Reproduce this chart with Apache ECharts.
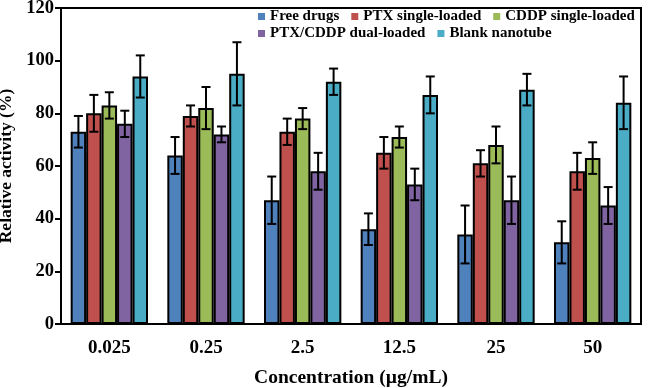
<!DOCTYPE html>
<html>
<head>
<meta charset="utf-8">
<script src="https://cdn.jsdelivr.net/npm/echarts@6/dist/echarts.min.js"></script>
<style>
  html, body { margin: 0; padding: 0; background: #fff; }
  #chart { width: 653px; height: 388px; }
</style>
</head>
<body>
<div id="chart"></div>
<script>
const categories = ['0.025', '0.25', '2.5', '12.5', '25', '50'];
const seriesNames = ['Free drugs', 'PTX single-loaded', 'CDDP single-loaded', 'PTX/CDDP dual-loaded', 'Blank nanotube'];
const colors = ['#4f81bd', '#c0504d', '#9bbb59', '#8064a2', '#4bacc6'];

const freeDrugs = [73, 64, 47, 36, 34, 31];
const freeErr = [6, 7, 9, 6, 11, 8];
const ptxSingle = [80, 79, 73, 65, 61, 58];
const ptxErr = [7, 4, 5, 6, 5, 7];
const cddpSingle = [83, 82, 78, 71, 68, 63];
const cddpErr = [5, 8, 4, 4, 7, 6];
const dualLoaded = [76, 72, 58, 53, 47, 45];
const dualErr = [5, 3, 7, 6, 9, 7];
const blankTube = [94, 95, 92, 87, 89, 84];
const blankErr = [8, 12, 5, 7, 6, 10];

const values = [freeDrugs, ptxSingle, cddpSingle, dualLoaded, blankTube];
const errors = [freeErr, ptxErr, cddpErr, dualErr, blankErr];

const font = "'Liberation Serif', 'Times New Roman', serif";
const chart = echarts.init(document.getElementById('chart'));

// one row per bar: [category index, series index, low, high]
const errData = [];
values.forEach((vals, s) => {
  vals.forEach((v, c) => {
    errData.push([c, s, v - errors[s][c], v + errors[s][c]]);
  });
});

function renderErr(params, api) {
  const cat = api.value(0);
  const s = api.value(1);
  const band = api.size([1, 0])[0];
  const bw = band * 0.8 / 5;
  const x = api.coord([cat, 0])[0] + (s - 2) * bw;
  const top = api.coord([cat, api.value(3)])[1];
  const bot = api.coord([cat, api.value(2)])[1];
  const cap = 4.5;
  const style = { stroke: '#000', lineWidth: 2 };
  return {
    type: 'group',
    children: [
      { type: 'line', shape: { x1: x, y1: top, x2: x, y2: bot }, style },
      { type: 'line', shape: { x1: x - cap, y1: top, x2: x + cap, y2: top }, style },
      { type: 'line', shape: { x1: x - cap, y1: bot, x2: x + cap, y2: bot }, style }
    ]
  };
}

const legendBase = {
  orient: 'horizontal',
  left: 258,
  padding: 0,
  itemWidth: 7,
  itemHeight: 7,
  itemGap: 12,
  icon: 'rect',
  itemStyle: { borderWidth: 0 },
  textStyle: { fontFamily: font, fontWeight: 'bold', fontSize: 15, color: '#000' }
};

const option = {
  animation: false,
  color: colors,
  legend: [
    Object.assign({}, legendBase, { top: 9, data: seriesNames.slice(0, 3) }),
    Object.assign({}, legendBase, { top: 26, data: seriesNames.slice(3) })
  ],
  grid: {
    left: 61,
    right: 12,
    top: 8,
    bottom: 64,
    outerBoundsMode: 'none',
    show: true,
    borderColor: '#000',
    borderWidth: 2
  },
  xAxis: {
    type: 'category',
    data: categories,
    name: 'Concentration (\u00b5g/mL)',
    nameLocation: 'middle',
    nameGap: 44,
    nameTextStyle: { fontFamily: font, fontWeight: 'bold', fontSize: 19.5, color: '#000' },
    axisLine: { lineStyle: { color: '#000', width: 2 } },
    axisTick: { inside: true, length: 4, lineStyle: { color: '#000', width: 2 } },
    axisLabel: { fontFamily: font, fontWeight: 'bold', fontSize: 19, color: '#000', margin: 15 }
  },
  yAxis: {
    type: 'value',
    min: 0,
    max: 120,
    interval: 20,
    name: 'Relative activity (%)',
    nameLocation: 'middle',
    nameGap: 39,
    nameTextStyle: { fontFamily: font, fontWeight: 'bold', fontSize: 17.5, color: '#000' },
    splitLine: { show: false },
    axisLine: { show: true, lineStyle: { color: '#000', width: 2 } },
    axisTick: { show: true, length: 6, lineStyle: { color: '#000', width: 2 } },
    axisLabel: { fontFamily: font, fontWeight: 'bold', fontSize: 18.5, color: '#000', margin: 7 }
  },
  series: seriesNames.map((name, i) => ({
    name,
    type: 'bar',
    data: values[i],
    barGap: 0,
    barCategoryGap: '20%',
    itemStyle: { color: colors[i], borderColor: '#000', borderWidth: 2 }
  })).concat([{
    type: 'custom',
    renderItem: renderErr,
    data: errData,
    z: 10,
    silent: true
  }])
};

chart.setOption(option);
</script>
</body>
</html>
